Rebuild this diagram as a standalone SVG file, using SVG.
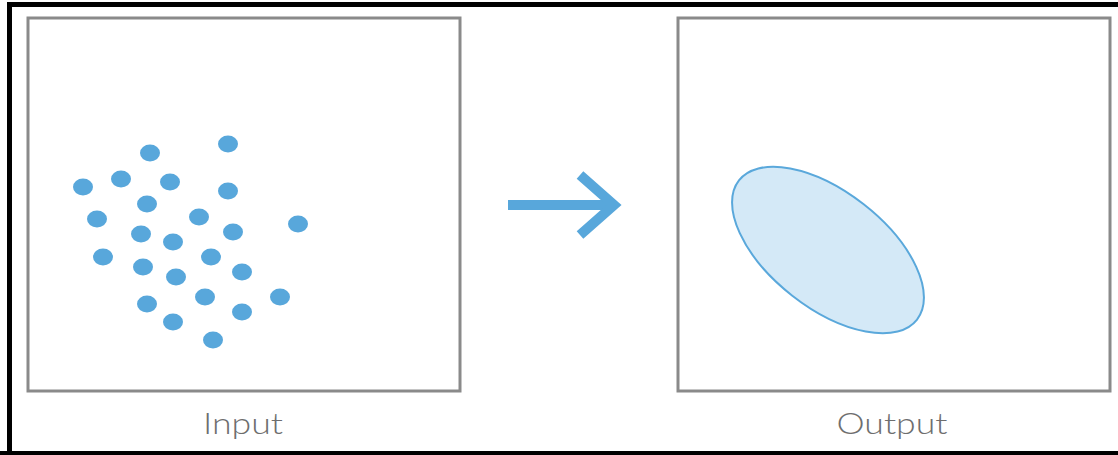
<svg xmlns="http://www.w3.org/2000/svg" width="1118" height="455" viewBox="0 0 1118 455">
<style>
.panel{fill:#fff;stroke:#8a8a8a;stroke-width:3}
.dot{fill:#58a7db}
.label{font-family:Lato,"Open Sans",sans-serif;font-size:30px;font-weight:300;fill:#6e6e6e;text-anchor:middle}
</style>
<rect x="0" y="0" width="1118" height="455" fill="#fff"/>
<path d="M9.5 455 V4.5 H1118" fill="none" stroke="#000" stroke-width="5"/>
<rect x="0" y="451" width="1118" height="4" fill="#000"/>
<g id="input">
<rect class="panel" x="28" y="18" width="432" height="373"/>
<g>
<ellipse class="dot" cx="150" cy="153" rx="10" ry="8.5"/>
<ellipse class="dot" cx="228" cy="144" rx="10" ry="8.5"/>
<ellipse class="dot" cx="121" cy="179" rx="10" ry="8.5"/>
<ellipse class="dot" cx="83" cy="187" rx="10" ry="8.5"/>
<ellipse class="dot" cx="170" cy="182" rx="10" ry="8.5"/>
<ellipse class="dot" cx="228" cy="191" rx="10" ry="8.5"/>
<ellipse class="dot" cx="147" cy="204" rx="10" ry="8.5"/>
<ellipse class="dot" cx="97" cy="219" rx="10" ry="8.5"/>
<ellipse class="dot" cx="199" cy="217" rx="10" ry="8.5"/>
<ellipse class="dot" cx="298" cy="224" rx="10" ry="8.5"/>
<ellipse class="dot" cx="141" cy="234" rx="10" ry="8.5"/>
<ellipse class="dot" cx="233" cy="232" rx="10" ry="8.5"/>
<ellipse class="dot" cx="173" cy="242" rx="10" ry="8.5"/>
<ellipse class="dot" cx="103" cy="257" rx="10" ry="8.5"/>
<ellipse class="dot" cx="211" cy="257" rx="10" ry="8.5"/>
<ellipse class="dot" cx="143" cy="267" rx="10" ry="8.5"/>
<ellipse class="dot" cx="242" cy="272" rx="10" ry="8.5"/>
<ellipse class="dot" cx="176" cy="277" rx="10" ry="8.5"/>
<ellipse class="dot" cx="205" cy="297" rx="10" ry="8.5"/>
<ellipse class="dot" cx="280" cy="297" rx="10" ry="8.5"/>
<ellipse class="dot" cx="147" cy="304" rx="10" ry="8.5"/>
<ellipse class="dot" cx="242" cy="312" rx="10" ry="8.5"/>
<ellipse class="dot" cx="173" cy="322" rx="10" ry="8.5"/>
<ellipse class="dot" cx="213" cy="340" rx="10" ry="8.5"/>
</g>
<text class="label" x="243" y="434" textLength="80" lengthAdjust="spacingAndGlyphs">Input</text>
</g>
<g id="output">
<rect class="panel" x="678" y="18" width="432" height="373"/>
<ellipse cx="828" cy="250" rx="113" ry="58" transform="rotate(38 828 250)" fill="#d4e9f7" stroke="#5aa8db" stroke-width="2"/>
<text class="label" x="892" y="434" textLength="111" lengthAdjust="spacingAndGlyphs">Output</text>
</g>
<g id="connectors">
<line x1="508" y1="205" x2="614" y2="205" stroke="#58a7db" stroke-width="10"/>
<polyline points="580,175 614,205 580,235" fill="none" stroke="#58a7db" stroke-width="10" stroke-linejoin="miter"/>
</g>
</svg>
